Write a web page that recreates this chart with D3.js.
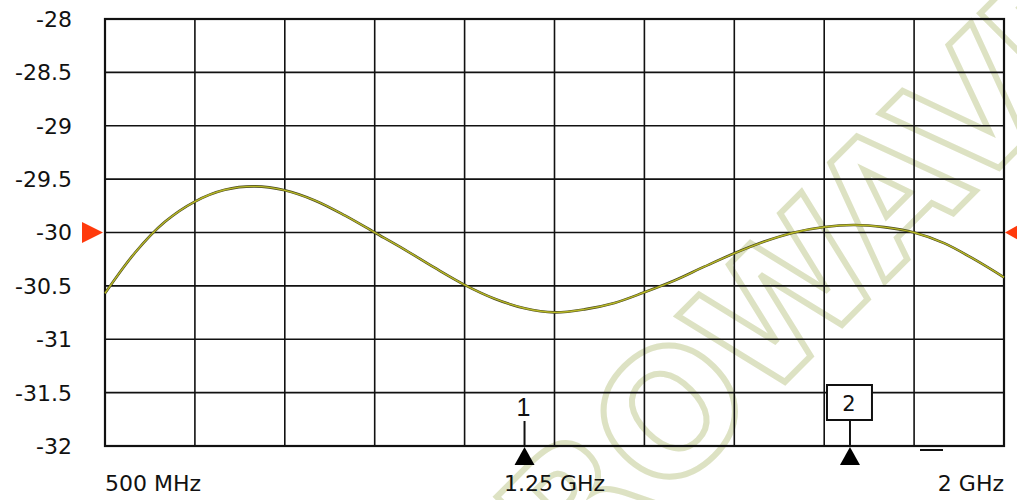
<!DOCTYPE html>
<html>
<head>
<meta charset="utf-8">
<script src="https://cdn.jsdelivr.net/npm/d3@7"></script>
<style>
  body { margin: 0; background: #fff; }
  svg { display: block; }
</style>
</head>
<body>
<svg width="1017" height="500"></svg>
<script>
var margin = {left:105,right:13,top:19,bottom:54};

var width = 1017;
var height = 500;

// frequency in MHz, trace value in dB
var freqs = d3.range(500, 2001, 50);
var values = [-30.57,-30.19,-29.90,-29.71,-29.60,-29.568,-29.605,-29.70,-29.84,-30.00,-30.16,-30.33,-30.49,-30.62,-30.71,-30.748,-30.72,-30.66,-30.56,-30.45,-30.32,-30.195,-30.085,-30.00,-29.948,-29.93,-29.95,-30.00,-30.10,-30.25,-30.42];

var yTicks = [-28,-28.5,-29,-29.5,-30,-30.5,-31,-31.5,-32];
var xGrid = d3.range(500, 2001, 150);
var xLabels = [{f:500,text:"500 MHz",anchor:"start"},{f:1250,text:"1.25 GHz",anchor:"middle"},{f:2000,text:"2 GHz",anchor:"end"}];
var refLevel = -30;
var markers = [{id:"1",f:1200,boxed:false},{id:"2",f:1743,boxed:true}];

var svg = d3.select("svg");

var x = d3.scaleLinear().domain([500,2000]).range([margin.left, width - margin.right]);
var y = d3.scaleLinear().domain([-32,-28]).range([height - margin.bottom, margin.top]);

// watermark, placed so that its "O" sits near the 1.25 GHz column
var wmSize = 168;
var wm = svg.append("g").attr("transform", "translate(668,412) rotate(-45)");
var wmText = wm.append("text")
    .attr("font-family", "DejaVu Sans")
    .attr("font-weight", "bold")
    .attr("font-size", wmSize)
    .style("letter-spacing", "-3px")
    .attr("fill", "none")
    .attr("stroke", "#dde2c3")
    .attr("stroke-width", 6)
    .text("MICROWAVES");
var oBox = wmText.node().getExtentOfChar(4);
wmText.attr("x", -(oBox.x + oBox.width / 2)).attr("y", 0.365 * wmSize);

// grid
var grid = svg.append("g").attr("stroke", "#111").attr("stroke-width", 1.6);
grid.selectAll("line.v")
  .data(xGrid)
  .enter().append("line")
    .attr("x1", function(d) { return x(d); })
    .attr("x2", function(d) { return x(d); })
    .attr("y1", y(-28))
    .attr("y2", y(-32));
grid.selectAll("line.h")
  .data(yTicks)
  .enter().append("line")
    .attr("x1", x(500))
    .attr("x2", x(2000))
    .attr("y1", function(d) { return y(d); })
    .attr("y2", function(d) { return y(d); });
svg.append("rect")
    .attr("x", x(500)).attr("y", y(-28))
    .attr("width", x(2000) - x(500)).attr("height", y(-32) - y(-28))
    .attr("fill", "none").attr("stroke", "#111").attr("stroke-width", 2.2);

// y labels
svg.append("g").selectAll("text")
  .data(yTicks)
  .enter().append("text")
    .attr("x", 72)
    .attr("y", function(d) { return y(d); })
    .attr("dy", "0.36em")
    .attr("text-anchor", "end")
    .attr("font-family", "DejaVu Sans")
    .attr("font-size", 22)
    .attr("fill", "#111")
    .text(function(d) { return d; });

// x labels
svg.append("g").selectAll("text")
  .data(xLabels)
  .enter().append("text")
    .attr("x", function(d) { return x(d.f); })
    .attr("y", 491)
    .attr("text-anchor", function(d) { return d.anchor; })
    .attr("font-family", "DejaVu Sans")
    .attr("font-size", 22)
    .attr("fill", "#111")
    .text(function(d) { return d.text; });

// trace
var line = d3.line()
    .x(function(d, i) { return x(freqs[i]); })
    .y(function(d) { return y(d); })
    .curve(d3.curveCatmullRom);
svg.append("path")
    .attr("d", line(values))
    .attr("fill", "none")
    .attr("stroke", "#4a4a20")
    .attr("stroke-width", 2.6);
svg.append("path")
    .attr("d", line(values))
    .attr("fill", "none")
    .attr("stroke", "#b8b826")
    .attr("stroke-width", 1.4);

// reference level arrows
var ry = y(refLevel);
svg.append("path")
    .attr("d", "M82," + (ry - 10.5) + "L103," + ry + "L82," + (ry + 10.5) + "Z")
    .attr("fill", "#ff3a0c");
svg.append("path")
    .attr("d", "M1024," + (ry - 10.5) + "L1005," + ry + "L1024," + (ry + 10.5) + "Z")
    .attr("fill", "#ff3a0c");

// markers
var base = y(-32);
markers.forEach(function(m) {
  var mx = x(m.f);
  svg.append("path")
      .attr("d", "M" + mx + "," + (base + 1) + "L" + (mx + 10) + "," + (base + 19) + "L" + (mx - 10) + "," + (base + 19) + "Z")
      .attr("fill", "#000");
  svg.append("line")
      .attr("x1", mx).attr("x2", mx).attr("y1", 421).attr("y2", base)
      .attr("stroke", "#111").attr("stroke-width", 2);
  if (m.boxed) {
    svg.append("rect")
        .attr("x", mx - 23).attr("y", 385)
        .attr("width", 45).attr("height", 35)
        .attr("fill", "#fff").attr("stroke", "#111").attr("stroke-width", 2);
    svg.append("text")
        .attr("x", mx - 1).attr("y", 411)
        .attr("text-anchor", "middle")
        .attr("font-family", "DejaVu Sans")
        .attr("font-size", 21)
        .attr("fill", "#111")
        .text(m.id);
  } else {
    svg.append("text")
        .attr("x", mx - 1).attr("y", 416)
        .attr("text-anchor", "middle")
        .attr("font-family", "Liberation Sans Narrow, Liberation Sans")
        .attr("font-size", 25)
        .attr("fill", "#111")
        .text(m.id);
  }
});

// small dash below the last grid column
svg.append("line")
    .attr("x1", 920).attr("x2", 943).attr("y1", 450).attr("y2", 450)
    .attr("stroke", "#111").attr("stroke-width", 2);
</script>
</body>
</html>
